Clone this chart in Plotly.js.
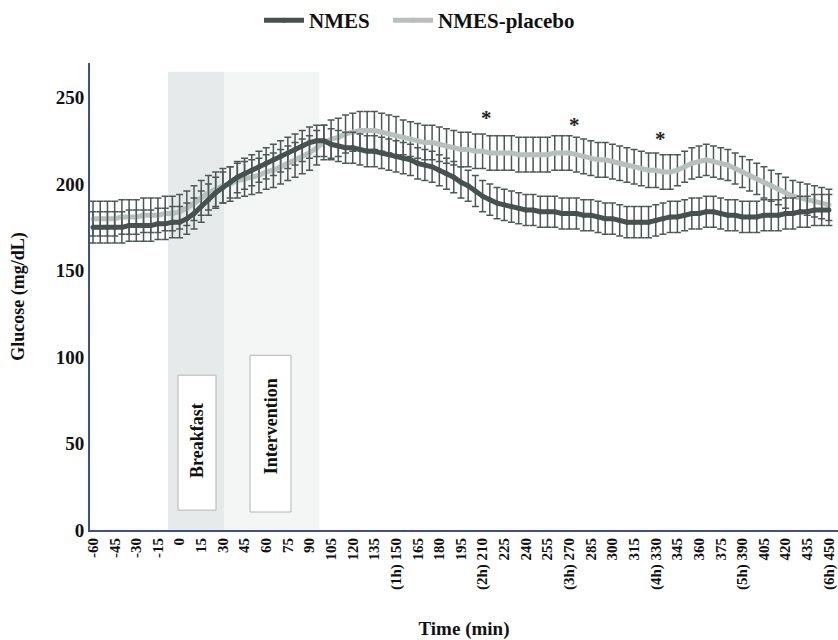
<!DOCTYPE html>
<html>
<head>
<meta charset="utf-8">
<script src="https://cdn.plot.ly/plotly-3.0.1.min.js"></script>
<style>html,body{margin:0;padding:0;background:#fff;}#chart{width:838px;height:640px;}</style>
</head>
<body>
<div id="chart"></div>
<script>
// Time points (min), every 5 min
var timeMin = [-60,-55,-50,-45,-40,-35,-30,-25,-20,-15,-10,-5,0,5,10,15,20,25,30,35,40,45,50,55,60,65,70,75,80,85,90,95,100,105,110,115,120,125,130,135,140,145,150,155,160,165,170,175,180,185,190,195,200,205,210,215,220,225,230,235,240,245,250,255,260,265,270,275,280,285,290,295,300,305,310,315,320,325,330,335,340,345,350,355,360,365,370,375,380,385,390,395,400,405,410,415,420,425,430,435,440,445,450];

// NMES mean glucose (mg/dL)
var nmes = [175,175,175,175,175,176,176,176,176,177,177,178,178,180,183,187,191,195,198,201,204,206,208,210,212,214,216,218,220,222,224,225,225,223,222,221,221,220,219,219,218,217,216,215,214,212,211,210,208,206,204,201,199,196,193,191,189,188,187,186,185,185,184,184,184,183,183,183,182,182,181,180,180,179,178,178,178,178,179,180,181,181,182,183,183,184,184,183,182,182,181,181,181,182,182,182,183,183,184,184,185,185,185];
var nmesErr = [9,9,9,9,9,9,9,9,9,9,9,9,9,9,9,9,9,9,9,9,9,9,9,9,9,9,9,9,9,9,9,9,9,9,9,9,9,9,9,9,9,9,9,9,9,9,9,9,9,9,9,9,9,9,9,9,9,9,9,9,9,9,9,9,9,9,9,9,9,9,9,9,9,9,9,9,9,9,9,9,9,9,9,9,9,9,9,9,9,9,9,9,9,9,9,9,9,9,9,9,9,9,9];

// NMES-placebo mean glucose (mg/dL)
var placebo = [180,180,180,180,181,181,181,182,182,182,183,183,184,186,189,192,195,197,199,200,202,203,204,205,207,208,210,212,214,216,218,221,224,226,227,229,230,231,231,231,230,229,228,227,226,225,224,224,223,222,221,220,220,219,219,218,218,218,218,217,217,217,217,217,218,218,218,217,216,215,214,214,213,212,211,210,209,208,208,207,207,208,210,212,213,214,213,212,211,209,207,205,203,201,199,197,195,193,192,191,190,189,188];
var placeboErr = [10,10,10,10,10,10,10,10,10,10,10,10,10,10,10,10,10,10,10,10,10,10,10,10,10,10,10,10,10,10,10,10,10,11,11,11,11,11,11,11,11,11,11,10,10,10,10,10,10,10,10,10,10,10,10,10,10,10,10,10,10,10,10,10,10,10,10,10,10,10,10,10,10,10,10,10,10,10,10,10,10,9,9,9,9,9,9,9,9,9,9,9,9,9,9,9,9,9,9,9,9,9,9];

// Tick labels
var tickVals = [-60,-45,-30,-15,0,15,30,45,60,75,90,105,120,135,150,165,180,195,210,225,240,255,270,285,300,315,330,345,360,375,390,405,420,435,450];
var tickText = ["-60","-45","-30","-15","0","15","30","45","60","75","90","105","120","135","(1h) 150","165","180","195","(2h) 210","225","240","255","(3h) 270","285","300","315","(4h) 330","345","360","375","(5h) 390","405","420","435","(6h) 450"];

// Significance markers
var sigTimes = [213, 274, 333];
var sigY = [238, 234, 226];

var serif = "Liberation Serif, Times New Roman, serif";
var darkC = "#465150";
var lightC = "#b7c0bd";
var errC = "#4d5756";

var traces = [
  {
    x: timeMin, y: placebo, name: "NMES-placebo", type: "scatter", mode: "lines+markers",
    line: {color: lightC, width: 5}, marker: {color: lightC, size: 5},
    error_y: {type: "data", array: placeboErr, visible: true, color: errC, thickness: 1.5, width: 3.5},
    legend: "legend2"
  },
  {
    x: timeMin, y: nmes, name: "NMES", type: "scatter", mode: "lines+markers",
    line: {color: darkC, width: 5}, marker: {color: darkC, size: 5},
    error_y: {type: "data", array: nmesErr, visible: true, color: errC, thickness: 1.5, width: 3.5},
    legend: "legend"
  }
];

var annotations = sigTimes.map(function(t, i) {
  return {x: t, y: sigY[i], xref: "x", yref: "y", text: "*", showarrow: false,
    font: {family: serif, size: 21, color: "#222", weight: "bold"}};
});
annotations.push({x: 12, y: 52, xref: "x", yref: "y", text: "Breakfast", textangle: -90, showarrow: false,
  font: {family: serif, size: 18, color: "#111", weight: "bold"}});
annotations.push({x: 63.4, y: 60, xref: "x", yref: "y", text: "Intervention", textangle: -90, showarrow: false,
  font: {family: serif, size: 18, color: "#111", weight: "bold"}});

var shapes = [
  {type: "rect", xref: "x", yref: "y", x0: -8, x1: 31, y0: 0, y1: 265, fillcolor: "#e6eaea", line: {width: 0}, layer: "below"},
  {type: "rect", xref: "x", yref: "y", x0: 31, x1: 97, y0: 0, y1: 265, fillcolor: "#f4f6f6", line: {width: 0}, layer: "below"},
  {type: "rect", xref: "x", yref: "y", x0: -1.1, x1: 25.2, y0: 11.5, y1: 89.5, fillcolor: "#ffffff", line: {width: 1, color: "#b5b5b5"}, layer: "below"},
  {type: "rect", xref: "x", yref: "y", x0: 48.8, x1: 77.2, y0: 10.4, y1: 101, fillcolor: "#ffffff", line: {width: 1, color: "#b5b5b5"}, layer: "below"}
];

var legendFont = {family: serif, size: 21, color: "#111", weight: "bold"};

var layout = {
  width: 838, height: 640,
  margin: {l: 90, r: 0, t: 63, b: 110},
  paper_bgcolor: "#ffffff", plot_bgcolor: "#ffffff",
  font: {family: serif, color: "#111", weight: "bold"},
  showlegend: true,
  legend: {orientation: "h", xref: "container", yref: "container", x: 259/838, xanchor: "left", y: 1.0, yanchor: "top",
    font: legendFont, itemwidth: 40},
  legend2: {orientation: "h", xref: "container", yref: "container", x: 388/838, xanchor: "left", y: 1.0, yanchor: "top",
    font: legendFont, itemwidth: 40},
  xaxis: {
    range: [-62.1, 456.3], tickmode: "array", tickvals: tickVals, ticktext: tickText, tickangle: -90,
    tickfont: {family: serif, size: 15, color: "#111", weight: "bold"},
    showgrid: false, zeroline: false, showline: true, linecolor: "#3f4f8f", linewidth: 2, ticks: "",
    title: {text: "Time (min)", font: {family: serif, size: 19, color: "#111", weight: "bold"}, standoff: 34}
  },
  yaxis: {
    range: [0, 270], tickvals: [0, 50, 100, 150, 200, 250],
    tickfont: {family: serif, size: 19, color: "#111", weight: "bold"},
    showgrid: false, zeroline: false, showline: true, linecolor: "#3f4f8f", linewidth: 2, ticks: "",
    title: {text: "Glucose (mg/dL)", font: {family: serif, size: 18, color: "#111", weight: "bold"}, standoff: 26}
  },
  shapes: shapes,
  annotations: annotations
};

Plotly.newPlot("chart", traces, layout, {displayModeBar: false, staticPlot: true});
</script>
</body>
</html>
